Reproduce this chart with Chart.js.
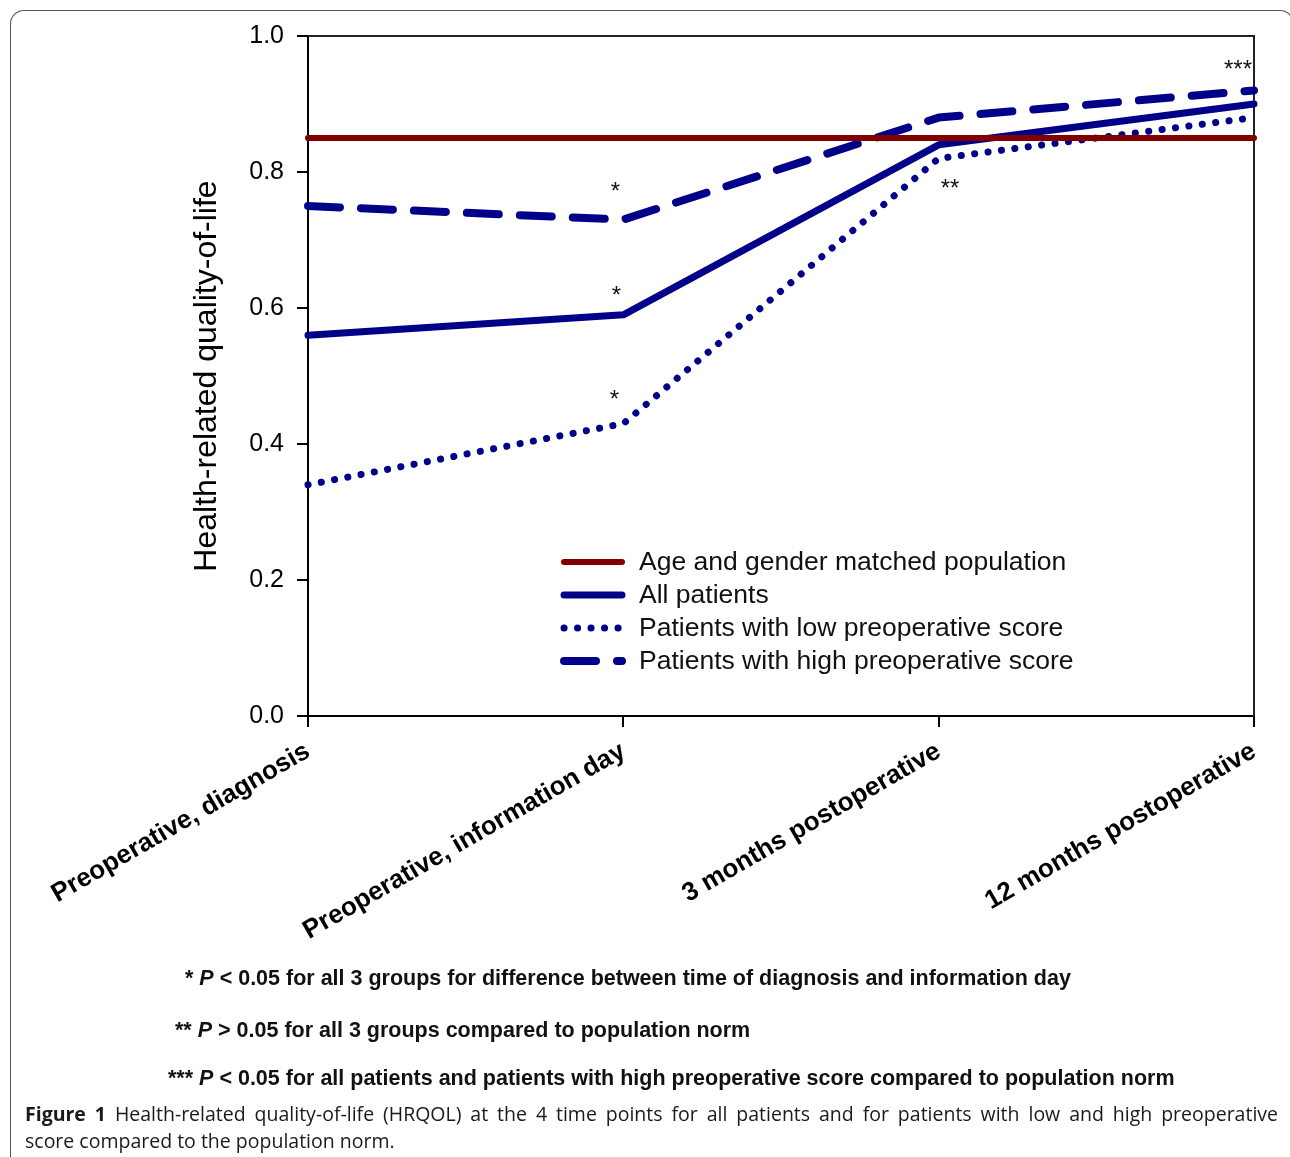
<!DOCTYPE html>
<html>
<head>
<meta charset="utf-8">
<title>HRQOL at 4 time points</title>
<script src="https://cdn.jsdelivr.net/npm/chart.js@4.4.0/dist/chart.umd.min.js"></script>
<style>
  html, body { margin: 0; padding: 0; background: #fff; }
  body { width: 1290px; height: 1157px; position: relative; overflow: hidden; font-family: "Liberation Sans", Arial, sans-serif; }
  #frame { position: absolute; left: 10px; top: 10px; width: 1282px; height: 1200px;
           border-top: 1.5px solid #555; border-left: 1.5px solid #555; border-right: 1.5px solid #555;
           border-top-left-radius: 14px; border-top-right-radius: 14px; }
  #wrap { position: absolute; left: 0; top: 0; width: 1290px; height: 1157px; }
  .note { position: absolute; font-weight: bold; font-size: 21.5px; line-height: 24px; color: #111; white-space: nowrap; }
  .cap { position: absolute; left: 25px; width: 1253px; font-family: "Open Sans", sans-serif; font-size: 19.5px; line-height: 27px; color: #1a1a1a; white-space: nowrap; }
  .cap.just { text-align: justify; text-align-last: justify; white-space: normal; }
</style>
</head>
<body>
<div id="frame"></div>
<div id="wrap"><canvas id="hrqolChart" width="1290" height="1157"></canvas></div>

<div class="note" style="left:185px; top:966px;">* <i>P</i> &lt; 0.05 for all 3 groups for difference between time of diagnosis and information day</div>
<div class="note" style="left:175px; top:1018px;">** <i>P</i> &gt; 0.05 for all 3 groups compared to population norm</div>
<div class="note" style="left:168px; top:1066px;">*** <i>P</i> &lt; 0.05 for all patients and patients with high preoperative score compared to population norm</div>

<div class="cap just" style="top:1100px;"><b>Figure 1</b> Health-related quality-of-life (HRQOL) at the 4 time points for all patients and for patients with low and high preoperative</div>
<div class="cap" style="top:1127px;">score compared to the population norm.</div>

<script>
// time points on the x axis
const categories = [
  "Preoperative, diagnosis",
  "Preoperative, information day",
  "3 months postoperative",
  "12 months postoperative"
];

// HRQOL values
const populationNorm = [0.85, 0.85, 0.85, 0.85];
const allPatients = [0.56, 0.59, 0.84, 0.90];
const lowScore = [0.34, 0.43, 0.82, 0.88];
const highScore = [0.75, 0.73, 0.88, 0.92];

const yTicks = [0.0, 0.2, 0.4, 0.6, 0.8, 1.0];

// significance markers (text, time point index, HRQOL level)
const starText = ["*", "*", "*", "**", "***"];
const starIndex = [1, 1, 1, 2, 3];
const starValue = [0.781, 0.628, 0.475, 0.785, 0.96];

const NAVY = "#000088";
const MAROON = "#800000";
const INK = "#000";

document.addEventListener("DOMContentLoaded", () => {
  const canvas = document.getElementById("hrqolChart");
  const ctx = canvas.getContext("2d");

  // box around plot area, legend and the asterisks
  const extrasPlugin = {
    id: "extras",
    beforeDatasetsDraw(chart) {
      const { ctx, chartArea: a } = chart;
      ctx.save();
      ctx.strokeStyle = "#222";
      ctx.lineWidth = 2;
      ctx.beginPath();
      ctx.moveTo(a.left, a.top);
      ctx.lineTo(a.right, a.top);
      ctx.lineTo(a.right, a.bottom);
      ctx.stroke();
      ctx.restore();
    },
    afterDatasetsDraw(chart) {
      const { ctx, chartArea: a, scales } = chart;
      ctx.save();

      // asterisks
      const aligns = ["center", "center", "center", "left", "right"];
      const nudge = [-8, -7, -9, 2, -2];
      ctx.fillStyle = "#111";
      ctx.font = "24px 'Liberation Sans', Arial, sans-serif";
      ctx.textBaseline = "alphabetic";
      starText.forEach((t, i) => {
        const x = scales.x.getPixelForValue(starIndex[i]) + nudge[i];
        const y = scales.y.getPixelForValue(starValue[i]) + 24 * 0.58;
        ctx.textAlign = aligns[i];
        ctx.fillText(t, x, y);
      });

      // legend inside the plot area
      const lx = a.left + 256;
      const ly = a.top + 526;
      const rowH = 33;
      chart.data.datasets.forEach((ds, i) => {
        const y = ly + i * rowH;
        ctx.save();
        ctx.strokeStyle = ds.borderColor;
        ctx.lineWidth = ds.borderWidth;
        ctx.lineCap = "round";
        ctx.setLineDash(ds.borderDash || []);
        ctx.beginPath();
        ctx.moveTo(lx, y);
        ctx.lineTo(lx + 58, y);
        ctx.stroke();
        ctx.restore();
        ctx.fillStyle = "#111";
        ctx.font = "26.5px 'Liberation Sans', Arial, sans-serif";
        ctx.textAlign = "left";
        ctx.textBaseline = "middle";
        ctx.fillText(ds.label, lx + 75, y + 1);
      });
      ctx.restore();
    }
  };

  new Chart(ctx, {
    type: "line",
    data: {
      labels: categories,
      datasets: [
        {
          label: "Age and gender matched population",
          data: populationNorm,
          borderColor: MAROON,
          borderWidth: 6,
          borderCapStyle: "round",
          clip: false
        },
        {
          label: "All patients",
          data: allPatients,
          borderColor: NAVY,
          borderWidth: 7,
          borderCapStyle: "round",
          clip: false
        },
        {
          label: "Patients with low preoperative score",
          data: lowScore,
          borderColor: NAVY,
          borderWidth: 7,
          borderCapStyle: "round",
          borderDash: [0.1, 13.4],
          clip: false
        },
        {
          label: "Patients with high preoperative score",
          data: highScore,
          borderColor: NAVY,
          borderWidth: 8,
          borderCapStyle: "round",
          borderDash: [32, 21],
          clip: false
        }
      ]
    },
    options: {
      responsive: false,
      animation: false,
      layout: { padding: { top: 36, right: 36, left: 0, bottom: 0 } },
      elements: {
        point: { radius: 0, hoverRadius: 0 },
        line: { tension: 0, borderJoinStyle: "round" }
      },
      plugins: {
        legend: { display: false },
        tooltip: { enabled: false }
      },
      scales: {
        x: {
          type: "category",
          offset: false,
          grid: { display: true, drawOnChartArea: false, drawTicks: true, tickLength: 11, color: INK, lineWidth: 2 },
          border: { display: true, color: INK, width: 2 },
          ticks: {
            autoSkip: false,
            minRotation: 30,
            maxRotation: 30,
            padding: 9,
            color: INK,
            font: { family: "'Liberation Sans', Arial, sans-serif", size: 26, weight: "bold" }
          },
          afterFit: (s) => { s.height = 1157 - 716; }
        },
        y: {
          min: 0,
          max: 1,
          afterBuildTicks: (s) => { s.ticks = yTicks.map(v => ({ value: v })); },
          grid: { display: true, drawOnChartArea: false, drawTicks: true, tickLength: 11, color: INK, lineWidth: 2 },
          border: { display: true, color: INK, width: 2 },
          ticks: {
            padding: 13,
            color: INK,
            font: { family: "'Liberation Sans', Arial, sans-serif", size: 25 },
            callback: (v) => Number(v).toFixed(1)
          },
          title: {
            display: true,
            text: "Health-related quality-of-life",
            color: INK,
            padding: { top: 188, bottom: 0 },
            font: { family: "'Liberation Sans', Arial, sans-serif", size: 32 }
          },
          afterFit: (s) => { s.width = 308; }
        }
      }
    },
    plugins: [extrasPlugin]
  });
});
</script>
</body>
</html>
